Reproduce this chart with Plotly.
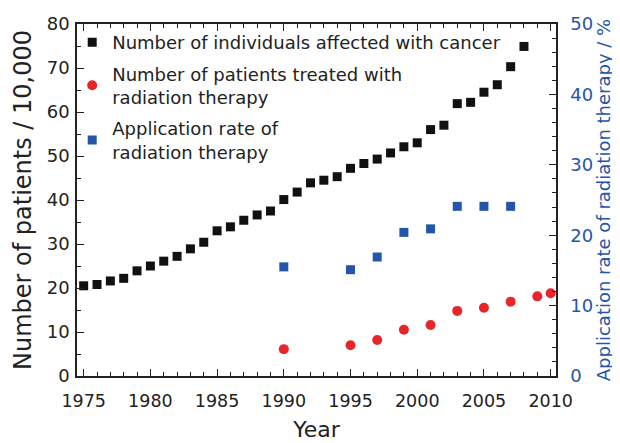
import plotly.graph_objects as go

FONT = "DejaVu Sans, sans-serif"
BLUE = "#2356a8"

cancer_years = list(range(1975, 2009))
cancer_counts = [
    20.5, 20.8, 21.6, 22.2, 23.9, 25.0, 26.1, 27.2, 28.9, 30.4,
    33.0, 33.9, 35.4, 36.6, 37.5, 40.1, 41.8, 43.9, 44.5, 45.3,
    47.2, 48.3, 49.3, 50.7, 52.1, 53.0, 56.0, 57.0, 61.9, 62.2,
    64.5, 66.2, 70.3, 74.9,
]

rt_years = [1990, 1995, 1997, 1999, 2001, 2003, 2005, 2007, 2009, 2010]
rt_patients = [6.1, 7.0, 8.2, 10.5, 11.6, 14.8, 15.5, 16.9, 18.1, 18.8]

rate_years = [1990, 1995, 1997, 1999, 2001, 2003, 2005, 2007]
rate_values = [15.5, 15.1, 16.9, 20.4, 20.9, 24.1, 24.1, 24.1]

fig = go.Figure()

fig.add_trace(go.Scatter(
    x=cancer_years, y=cancer_counts, mode="markers",
    name="Number of individuals affected with cancer", legendgroup="a",
    marker=dict(symbol="square", size=9, color="#111111"),
))
fig.add_trace(go.Scatter(
    x=rt_years, y=rt_patients, mode="markers",
    name="Number of patients treated with<br>radiation therapy", legendgroup="b",
    marker=dict(symbol="circle", size=10, color="#e8262a"),
))
fig.add_trace(go.Scatter(
    x=rate_years, y=rate_values, mode="markers", yaxis="y2",
    name="Application rate of<br>radiation therapy", legendgroup="c",
    marker=dict(symbol="square", size=9, color=BLUE),
))

# page body has an 8px margin, so margins are trimmed to keep the plot box in place
fig.update_layout(
    width=620, height=443,
    margin=dict(l=69, r=72, t=16, b=75),
    paper_bgcolor="white", plot_bgcolor="white",
    font=dict(family=FONT, size=15, color="#222222"),
    showlegend=True,
    legend=dict(
        x=-0.01, y=1.0, xanchor="left", yanchor="top",
        bgcolor="rgba(0,0,0,0)", font=dict(size=18, color="#222222"),
        tracegroupgap=5,
    ),
    xaxis=dict(
        range=[1974.5, 2010.4], dtick=5, tick0=1975, automargin=False,
        ticks="inside", ticklen=7, tickcolor="#222222",
        showline=True, linecolor="#222222", linewidth=1.5, mirror="ticks",
        showgrid=False, zeroline=False,
        minor=dict(dtick=1, ticks="inside", ticklen=4, tickcolor="#222222"),
        title=dict(text="Year", font=dict(size=22), standoff=12),
        tickfont=dict(size=17.5), ticklabelstandoff=8,
    ),
    yaxis=dict(
        range=[0, 80], dtick=10, automargin=False,
        ticks="inside", ticklen=7, tickcolor="#222222",
        showline=True, linecolor="#222222", linewidth=1.5,
        showgrid=False, zeroline=False,
        minor=dict(dtick=5, ticks="inside", ticklen=4, tickcolor="#222222"),
        title=dict(text="Number of patients / 10,000", font=dict(size=24), standoff=8),
        tickfont=dict(size=18), ticklabelstandoff=2,
    ),
    yaxis2=dict(
        range=[0, 50], dtick=10, overlaying="y", side="right", automargin=False,
        ticks="inside", ticklen=7, tickcolor="#222222",
        showline=True, linecolor="#222222", linewidth=1.5,
        showgrid=False, zeroline=False,
        minor=dict(dtick=2, ticks="inside", ticklen=4, tickcolor="#222222"),
        title=dict(text="Application rate of radiation therapy / %",
                   font=dict(size=18, color=BLUE), standoff=3),
        tickfont=dict(size=18, color=BLUE), ticklabelstandoff=9,
    ),
)

fig.write_html("out.html")
